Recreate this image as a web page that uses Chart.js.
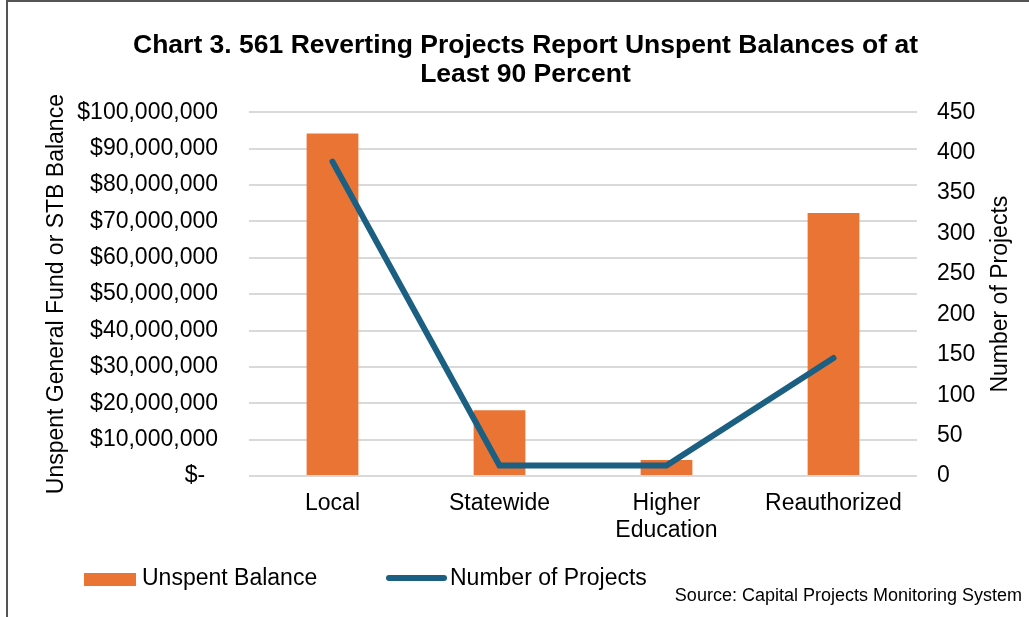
<!DOCTYPE html>
<html>
<head>
<meta charset="utf-8">
<script src="https://cdn.jsdelivr.net/npm/chart.js@4/dist/chart.umd.min.js"></script>
<style>
  html, body { margin: 0; padding: 0; background: #fff; }
  #wrap { width: 1029px; height: 617px; position: relative; }
</style>
</head>
<body>
<div id="wrap"><canvas id="chart3" width="1029" height="617"></canvas></div>
<script>
'use strict';

// Chart 3 — reverting projects, unspent balance vs. project count
const categories = [['Local'], ['Statewide'], ['Higher', 'Education'], ['Reauthorized']];
const unspentBalance = [94200000, 18100000, 4400000, 72300000];
const projectCounts = [389, 13, 13, 146];
const balanceTicks = [0, 10000000, 20000000, 30000000, 40000000, 50000000, 60000000, 70000000, 80000000, 90000000, 100000000];
const countTicks = [0, 50, 100, 150, 200, 250, 300, 350, 400, 450];

const titleLines = ['Chart 3. 561 Reverting Projects Report Unspent Balances of at', 'Least 90 Percent'];
const seriesNames = ['Unspent Balance', 'Number of Projects'];
const leftAxisTitle = 'Unspent General Fund or STB Balance';
const rightAxisTitle = 'Number of Projects';
const sourceNote = 'Source: Capital Projects Monitoring System';

const ORANGE = '#EA7434';
const BLUE = '#1B5F82';
const FONT = 'Arial, "Liberation Sans", sans-serif';

function money(v) {
    if (v === 0) return '$-  ';
    return '$' + v.toLocaleString('en-US');
}

// frame, right axis title (reads bottom-up), legend and source line
const framePlugin = {
    id: 'frameAndLegend',
    beforeDraw(chart) {
        const ctx = chart.ctx;
        ctx.save();
        ctx.fillStyle = '#fff';
        ctx.fillRect(0, 0, chart.width, chart.height);
        ctx.strokeStyle = '#555';
        ctx.lineWidth = 2;
        ctx.beginPath();
        ctx.moveTo(7, chart.height);
        ctx.lineTo(7, 1);
        ctx.lineTo(chart.width, 1);
        ctx.stroke();
        ctx.restore();
    },
    afterDraw(chart) {
        const ctx = chart.ctx;
        const area = chart.chartArea;
        ctx.save();
        ctx.font = '23px ' + FONT;
        ctx.fillStyle = '#000';

        ctx.save();
        ctx.translate(1001, (area.top + area.bottom) / 2);
        ctx.rotate(-Math.PI / 2);
        ctx.textAlign = 'center';
        ctx.textBaseline = 'middle';
        ctx.fillText(rightAxisTitle, 0, 0);
        ctx.restore();

        ctx.textBaseline = 'middle';
        // bar legend
        ctx.fillStyle = ORANGE;
        ctx.fillRect(84, 573, 52, 13);
        ctx.fillStyle = '#000';
        ctx.fillText(seriesNames[0], 142, 579);
        // line legend
        ctx.strokeStyle = BLUE;
        ctx.lineWidth = 6;
        ctx.lineCap = 'round';
        ctx.beginPath();
        ctx.moveTo(389, 578);
        ctx.lineTo(444, 578);
        ctx.stroke();
        ctx.fillText(seriesNames[1], 450, 579);
        // source
        ctx.font = '18px ' + FONT;
        ctx.textAlign = 'right';
        ctx.fillText(sourceNote, 1022, 596);
        ctx.restore();
    }
};

const ctx = document.getElementById('chart3').getContext('2d');
new Chart(ctx, {
    data: {
        labels: categories,
        datasets: [
            {
                type: 'line',
                label: seriesNames[1],
                data: projectCounts,
                yAxisID: 'y1',
                borderColor: BLUE,
                borderWidth: 6,
                borderCapStyle: 'round',
                borderJoinStyle: 'miter',
                pointRadius: 0,
                tension: 0,
                order: 0
            },
            {
                type: 'bar',
                label: seriesNames[0],
                data: unspentBalance,
                yAxisID: 'y',
                backgroundColor: ORANGE,
                barPercentage: 0.31,
                categoryPercentage: 1,
                order: 1
            }
        ]
    },
    options: {
        responsive: false,
        animation: false,
        layout: { padding: { left: 22, right: 0, top: 18, bottom: 0 } },
        plugins: {
            legend: { display: false },
            tooltip: { enabled: false },
            title: {
                display: true,
                text: titleLines,
                color: '#000',
                font: { family: FONT, size: 26.5, weight: 'bold', lineHeight: 1.1 },
                padding: { top: 13, bottom: 23 }
            }
        },
        scales: {
            x: {
                grid: { display: false, drawTicks: false },
                border: { display: false },
                ticks: {
                    color: '#000',
                    font: { family: FONT, size: 23, lineHeight: 1.17 },
                    padding: 14,
                    maxRotation: 0,
                    autoSkip: false
                },
                afterFit(scale) { scale.height = 141; }
            },
            y: {
                position: 'left',
                min: 0,
                max: 100000000,
                afterBuildTicks(scale) { scale.ticks = balanceTicks.map(v => ({ value: v })); },
                grid: { color: '#D9D9D9', lineWidth: 2, drawTicks: false },
                border: { display: false },
                ticks: {
                    color: '#000',
                    font: { family: FONT, size: 23 },
                    padding: 31,
                    callback: v => money(v)
                },
                title: {
                    display: true,
                    text: leftAxisTitle,
                    color: '#000',
                    font: { family: FONT, size: 23 },
                    padding: { top: 21, bottom: 0 }
                },
                afterFit(scale) { scale.width = 227; }
            },
            y1: {
                position: 'right',
                min: 0,
                max: 450,
                afterBuildTicks(scale) { scale.ticks = countTicks.map(v => ({ value: v })); },
                grid: { display: false, drawTicks: false },
                border: { display: false },
                ticks: {
                    color: '#000',
                    font: { family: FONT, size: 23 },
                    padding: 20
                },
                afterFit(scale) { scale.width = 112; }
            }
        }
    },
    plugins: [framePlugin]
});
</script>
</body>
</html>
